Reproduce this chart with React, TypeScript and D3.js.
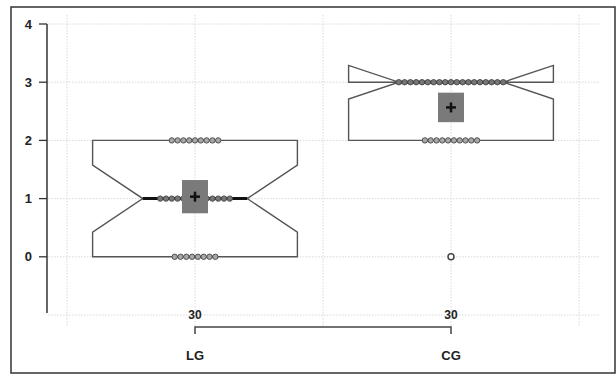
import React, { useEffect, useRef } from "react";
import * as d3 from "d3";

const groups = ["LG", "CG"];
const scoreValues = [0, 1, 2, 3];
const lgCounts = [8, 13, 9, 0];
const cgCounts = [1, 0, 10, 19];
const yTicks = [0, 1, 2, 3, 4];
const gridYs = [-1, 0, 1, 2, 3, 4];

const expand = (counts: number[]) =>
  scoreValues.flatMap((v, i) => d3.range(counts[i]).map(() => v));

// Tukey hinges, like R's fivenum
const fivenum = (vals: number[]) => {
  const x = vals.slice().sort((a, b) => a - b);
  const n = x.length;
  const n4 = Math.floor((n + 3) / 2) / 2;
  const d = [1, n4, (n + 1) / 2, n + 1 - n4, n];
  return d.map((p) => 0.5 * (x[Math.floor(p) - 1] + x[Math.ceil(p) - 1]));
};

const drawChart = (svgEl: SVGSVGElement) => {
  const width = 616;
  const height = 375;
  const font = "Liberation Sans, Arial, sans-serif";
  const svg = d3.select(svgEl);
  svg.selectAll("*").remove();

  const x = d3.scaleBand().domain(groups).range([67, 579]).padding(0);
  const y = d3.scaleLinear().domain([-1, 4]).range([315, 24]);
  const bw = x.bandwidth();
  const cx = (g: string) => (x(g) as number) + bw / 2;

  // frame
  svg
    .append("rect")
    .attr("x", 11)
    .attr("y", 7)
    .attr("width", width - 12)
    .attr("height", height - 9)
    .attr("fill", "white")
    .attr("stroke", "#333")
    .attr("stroke-width", 1.5);

  // grid
  const grid = svg.append("g").attr("stroke", "#d8d8d8").attr("stroke-dasharray", "1.5,1.5");
  gridYs.forEach((v) => {
    grid.append("line").attr("x1", 48).attr("x2", 600).attr("y1", y(v)).attr("y2", y(v));
  });
  const gridXs = [67, ...groups.map((g) => cx(g)), ...groups.map((g) => (x(g) as number) + bw)];
  gridXs.forEach((gx) => {
    grid.append("line").attr("x1", gx).attr("x2", gx).attr("y1", 15).attr("y2", 327);
  });

  // y axis
  const yAxis = svg.append("g").attr("font-family", font);
  yAxis
    .append("line")
    .attr("x1", 47)
    .attr("x2", 47)
    .attr("y1", y(4))
    .attr("y2", y(-1) - 2)
    .attr("stroke", "#333")
    .attr("stroke-width", 1.5);
  yTicks.forEach((t) => {
    yAxis
      .append("line")
      .attr("x1", 39)
      .attr("x2", 47)
      .attr("y1", y(t))
      .attr("y2", y(t))
      .attr("stroke", "#333")
      .attr("stroke-width", 1.3);
    yAxis
      .append("text")
      .attr("x", 32)
      .attr("y", y(t))
      .attr("dy", "0.36em")
      .attr("text-anchor", "end")
      .attr("font-size", 13)
      .attr("font-weight", "bold")
      .attr("fill", "#222")
      .text(t);
  });

  const allCounts = [lgCounts, cgCounts];
  const dotStep = 5.8;

  groups.forEach((g, gi) => {
    const counts = allCounts[gi];
    const vals = expand(counts);
    const n = vals.length;
    const [, q1, med, q3] = fivenum(vals);
    const iqr = q3 - q1;
    const notchLo = med - (1.58 * iqr) / Math.sqrt(n);
    const notchHi = med + (1.58 * iqr) / Math.sqrt(n);
    const loFence = q1 - 1.5 * iqr;
    const hiFence = q3 + 1.5 * iqr;
    const wLo = d3.min(vals.filter((v) => v >= loFence)) as number;
    const wHi = d3.max(vals.filter((v) => v <= hiFence)) as number;
    const outliers = vals.filter((v) => v < loFence || v > hiFence);
    const mean = d3.mean(vals) as number;
    const se = (d3.deviation(vals) as number) / Math.sqrt(n);
    const ci = 2.045 * se;

    const c = cx(g);
    const half = bw * 0.4;
    const xl = c - half;
    const xr = c + half;
    const xil = c - half * 0.51;
    const xir = c + half * 0.51;

    const gg = svg.append("g");

    // whiskers (zero length here, drawn anyway)
    gg.append("line").attr("x1", c).attr("x2", c).attr("y1", y(q3)).attr("y2", y(wHi)).attr("stroke", "#444");
    gg.append("line").attr("x1", c).attr("x2", c).attr("y1", y(q1)).attr("y2", y(wLo)).attr("stroke", "#444");

    const pts: [number, number][] = [
      [xl, y(q3)],
      [xl, y(notchHi)],
      [xil, y(med)],
      [xl, y(notchLo)],
      [xl, y(q1)],
      [xr, y(q1)],
      [xr, y(notchLo)],
      [xir, y(med)],
      [xr, y(notchHi)],
      [xr, y(q3)],
    ];
    gg.append("path")
      .attr("d", d3.line()(pts) + "Z")
      .attr("fill", "none")
      .attr("stroke", "#555")
      .attr("stroke-width", 1.4);

    gg.append("line")
      .attr("x1", xil)
      .attr("x2", xir)
      .attr("y1", y(med))
      .attr("y2", y(med))
      .attr("stroke", "#111")
      .attr("stroke-width", 3);

    // dot strips
    scoreValues.forEach((v, vi) => {
      const k = counts[vi];
      if (k === 0 || outliers.includes(v)) return;
      d3.range(k).forEach((j) => {
        gg.append("circle")
          .attr("cx", c + (j - (k - 1) / 2) * dotStep)
          .attr("cy", y(v))
          .attr("r", 2.7)
          .attr("fill", v === med ? "#777" : "#a8a8a8")
          .attr("stroke", "#444")
          .attr("stroke-width", 0.9);
      });
    });

    outliers.forEach((v) => {
      gg.append("circle")
        .attr("cx", c)
        .attr("cy", y(v))
        .attr("r", 3)
        .attr("fill", "white")
        .attr("stroke", "#444")
        .attr("stroke-width", 1.5);
    });

    // mean with confidence interval
    gg.append("rect")
      .attr("x", c - 13)
      .attr("y", y(mean + ci))
      .attr("width", 26)
      .attr("height", y(mean - ci) - y(mean + ci))
      .attr("fill", "#7a7a7a");
    gg.append("line").attr("x1", c - 5).attr("x2", c + 5).attr("y1", y(mean)).attr("y2", y(mean)).attr("stroke", "#111").attr("stroke-width", 2.5);
    gg.append("line").attr("x1", c).attr("x2", c).attr("y1", y(mean) - 5).attr("y2", y(mean) + 5).attr("stroke", "#111").attr("stroke-width", 2.5);

    // n label and group label
    svg
      .append("text")
      .attr("x", c)
      .attr("y", 319)
      .attr("text-anchor", "middle")
      .attr("font-family", font)
      .attr("font-size", 12)
      .attr("font-weight", "bold")
      .attr("fill", "#222")
      .text(n);
    svg
      .append("text")
      .attr("x", c)
      .attr("y", 360)
      .attr("text-anchor", "middle")
      .attr("font-family", font)
      .attr("font-size", 13)
      .attr("font-weight", "bold")
      .attr("fill", "#222")
      .text(g);
  });

  // comparison bracket
  const b1 = cx(groups[0]);
  const b2 = cx(groups[1]);
  svg
    .append("path")
    .attr("d", `M${b1},334V327H${b2}V334`)
    .attr("fill", "none")
    .attr("stroke", "#444")
    .attr("stroke-width", 1.5);
};

const App = () => {
  const svgRef = useRef<SVGSVGElement>(null);

  useEffect(() => {
    document.body.style.margin = "0";
    if (svgRef.current) drawChart(svgRef.current);
  }, []);

  return <svg ref={svgRef} width="616" height="375" style={{ display: "block" }}></svg>;
};

export default App;
